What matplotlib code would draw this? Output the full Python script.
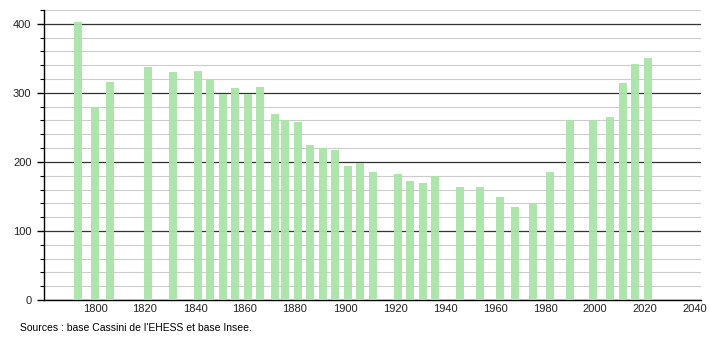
import matplotlib
matplotlib.use("Agg")
import matplotlib.pyplot as plt
from matplotlib.ticker import MultipleLocator

plt.rcParams['font.family'] = ['Liberation Sans', 'DejaVu Sans']

# années de recensement et population
annees = [1793, 1800, 1806, 1821, 1831, 1841, 1846, 1851, 1856, 1861, 1866,
          1872, 1876, 1881, 1886, 1891, 1896, 1901, 1906, 1911, 1921, 1926,
          1931, 1936, 1946, 1954, 1962, 1968, 1975, 1982, 1990, 1999, 2006,
          2011, 2016, 2021]
population = [402, 280, 315, 337, 330, 332, 319, 298, 307, 298, 309,
              270, 261, 258, 225, 220, 217, 194, 199, 186, 182, 173,
              170, 179, 163, 163, 149, 134, 140, 186, 261, 260, 265,
              314, 342, 351]

source = "Sources : base Cassini de l'EHESS et base Insee."

fig = plt.figure(figsize=(7.1, 3.4), dpi=100)
ax = fig.add_axes([44 / 710, 1 - 300 / 340, 657 / 710, 290 / 340])

ax.bar(annees, population, width=3.2, color='#a9e4a9', alpha=0.95, zorder=3)

ax.set_xlim(1779.6, 2042.4)
ax.set_ylim(0, 420)
ax.yaxis.set_major_locator(MultipleLocator(100))
ax.yaxis.set_minor_locator(MultipleLocator(20))
ax.set_xticks(range(1800, 2041, 20))

# quadrillage : lignes fines tous les 20, lignes foncées tous les 100
ax.grid(axis='y', which='minor', color='#cccccc', linewidth=0.8, zorder=1)
ax.grid(axis='y', which='major', color='#333333', linewidth=0.9, zorder=2)

for side in ('top', 'right'):
    ax.spines[side].set_visible(False)
ax.spines['left'].set_linewidth(1.0)
ax.spines['bottom'].set_linewidth(1.0)

ax.tick_params(axis='y', which='major', length=5, width=1, labelsize=8,
               pad=4, labelcolor='#222222')
ax.tick_params(axis='y', which='minor', length=3, width=0.8)
ax.tick_params(axis='x', length=0, labelsize=8, pad=3, labelcolor='#222222')

fig.text(20 / 710, 1 - 328 / 340, source, fontsize=7.5, va='center', ha='left')

fig.savefig("out.png", dpi=100)
